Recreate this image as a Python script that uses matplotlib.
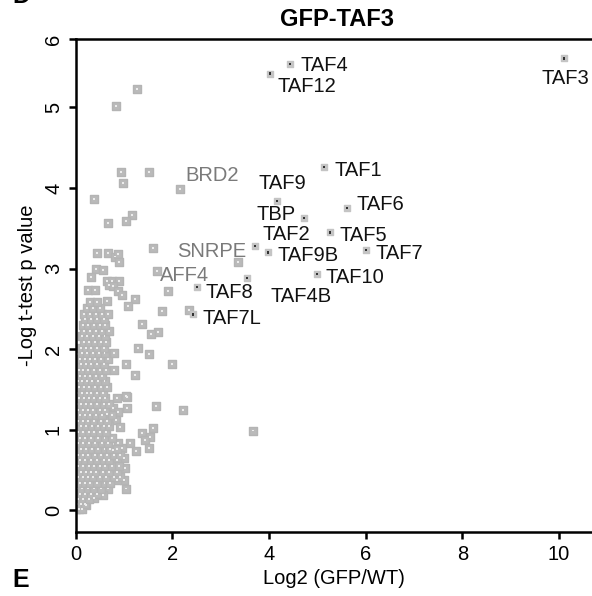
import matplotlib
matplotlib.use("Agg")
import matplotlib.pyplot as plt

plt.rcParams['font.family'] = ['Liberation Sans', 'DejaVu Sans']

# labelled TAF hits (x = log2 GFP/WT, y = -log p)
taf_names = ['TAF3', 'TAF4', 'TAF12', 'TAF1', 'TAF9', 'TAF6', 'TBP', 'TAF5',
             'TAF2', 'TAF9B', 'TAF7', 'TAF10', 'TAF4B', 'TAF8', 'TAF7L']
taf_x = [10.10, 4.44, 4.02, 5.14, 4.17, 5.62, 4.73, 5.26,
         3.71, 3.98, 6.01, 4.99, 3.55, 2.51, 2.43]
taf_y = [5.61, 5.54, 5.42, 4.26, 3.84, 3.75, 3.63, 3.45,
         3.28, 3.20, 3.23, 2.93, 2.88, 2.77, 2.43]

# labelled non-TAF proteins (drawn grey)
other_names = ['BRD2', 'SNRPE', 'AFF4']
other_x = [2.16, 3.36, 1.69]
other_y = [3.99, 3.08, 2.97]

# scattered background proteins
bg_pts = [
    (0.84, 5.02), (1.27, 5.23), (0.94, 4.20), (1.52, 4.20), (0.98, 4.06),
    (0.38, 3.86), (1.17, 3.66), (0.67, 3.57), (1.04, 3.59), (1.60, 3.26),
    (0.44, 3.19), (0.67, 3.19), (0.82, 3.15), (0.88, 3.18), (0.90, 3.08),
    (0.42, 3.00), (0.57, 2.98), (0.32, 2.89), (0.65, 2.85), (0.75, 2.85),
    (0.90, 2.85), (0.69, 2.80), (0.78, 2.78), (0.26, 2.73), (0.40, 2.74),
    (0.88, 2.72), (0.96, 2.67), (1.91, 2.72), (1.23, 2.62), (0.65, 2.60),
    (1.09, 2.54), (1.79, 2.47), (2.35, 2.48), (1.37, 2.31), (1.71, 2.21),
    (1.56, 2.19), (1.30, 2.02), (1.52, 1.94), (2.00, 1.81), (1.04, 1.82),
    (1.23, 1.68), (1.06, 1.40), (1.04, 1.42), (1.66, 1.29), (2.22, 1.25),
    (1.06, 1.27), (0.78, 1.27), (0.88, 1.22), (0.65, 1.20), (1.60, 1.02),
    (3.67, 0.99), (1.37, 0.96), (1.54, 0.91), (1.44, 0.87), (1.13, 0.83),
    (1.25, 0.73), (1.52, 0.77), (0.84, 1.12), (0.92, 1.03), (0.96, 0.77),
    (1.00, 0.65), (1.02, 0.53), (1.00, 0.37), (1.04, 0.27), (0.86, 0.37),
    (0.67, 0.27), (0.57, 0.19), (0.38, 0.15), (0.22, 0.06), (0.86, 0.62),
    (0.78, 0.75), (0.88, 0.83),
]
# dense cloud near the origin, row by row (y, list of x)
cloud_rows = [
    (0.02, [0.02, 0.08, 0.14]),
    (0.08, [0.03, 0.12, 0.20]),
    (0.14, [0.05, 0.15, 0.28]),
    (0.20, [0.02, 0.10, 0.20, 0.32, 0.45]),
    (0.27, [0.04, 0.14, 0.25, 0.38, 0.52]),
    (0.34, [0.02, 0.10, 0.20, 0.30, 0.44, 0.60, 0.72]),
    (0.41, [0.06, 0.16, 0.26, 0.36, 0.50, 0.64, 0.80, 0.93]),
    (0.48, [0.02, 0.12, 0.22, 0.32, 0.42, 0.56, 0.70, 0.85]),
    (0.55, [0.05, 0.15, 0.27, 0.38, 0.50, 0.62, 0.76, 0.90]),
    (0.62, [0.02, 0.10, 0.20, 0.32, 0.45, 0.58, 0.70]),
    (0.69, [0.06, 0.16, 0.26, 0.40, 0.52, 0.66, 0.80, 0.92]),
    (0.76, [0.02, 0.12, 0.22, 0.34, 0.46, 0.60, 0.72, 0.86]),
    (0.83, [0.05, 0.15, 0.28, 0.40, 0.54, 0.68]),
    (0.90, [0.02, 0.10, 0.20, 0.32, 0.46, 0.60, 0.75]),
    (0.97, [0.06, 0.16, 0.27, 0.38, 0.50, 0.64]),
    (1.04, [0.02, 0.12, 0.22, 0.34, 0.46, 0.58, 0.70]),
    (1.11, [0.05, 0.15, 0.26, 0.38, 0.52, 0.66]),
    (1.18, [0.02, 0.10, 0.20, 0.30, 0.42, 0.55, 0.75]),
    (1.25, [0.06, 0.16, 0.26, 0.36, 0.50, 0.62]),
    (1.32, [0.03, 0.12, 0.22, 0.32, 0.44, 0.58, 0.70]),
    (1.39, [0.07, 0.17, 0.27, 0.38, 0.50, 0.62, 0.86]),
    (1.46, [0.04, 0.13, 0.23, 0.33, 0.45, 0.56]),
    (1.53, [0.08, 0.18, 0.28, 0.40, 0.52, 0.66]),
    (1.60, [0.05, 0.14, 0.24, 0.35, 0.46, 0.60]),
    (1.67, [0.10, 0.20, 0.30, 0.42, 0.55]),
    (1.74, [0.07, 0.16, 0.26, 0.38, 0.50, 0.64, 0.80]),
    (1.81, [0.12, 0.22, 0.33, 0.45, 0.58]),
    (1.88, [0.10, 0.19, 0.30, 0.40, 0.52, 0.68]),
    (1.95, [0.14, 0.24, 0.36, 0.48, 0.60, 0.80]),
    (2.02, [0.12, 0.22, 0.33, 0.45, 0.58]),
    (2.09, [0.17, 0.28, 0.40, 0.52, 0.64]),
    (2.16, [0.14, 0.24, 0.36, 0.48, 0.60]),
    (2.23, [0.18, 0.30, 0.42, 0.55, 0.70]),
    (2.30, [0.16, 0.26, 0.38, 0.50, 0.62]),
    (2.37, [0.20, 0.32, 0.44, 0.58]),
    (2.44, [0.18, 0.30, 0.42, 0.55, 0.68]),
    (2.51, [0.24, 0.36, 0.50]),
    (2.58, [0.30, 0.45]),
]

x_ticks = [0, 2, 4, 6, 8, 10]
y_ticks = [0, 1, 2, 3, 4, 5, 5.85]
y_ticklabels = ['0', '1', '2', '3', '4', '5', '6']

# label offsets in pixels (dx, dy up) from marker
taf_offsets = {'TAF3': (2, -20, 'center'), 'TAF4': (10, -2, 'left'),
               'TAF12': (8, -13, 'left'), 'TAF1': (10, -3, 'left'),
               'TAF9': (-19, 17, 'left'), 'TAF6': (9, 4, 'left'),
               'TBP': (-48, 3, 'left'), 'TAF5': (10, -3, 'left'),
               'TAF2': (8, 12, 'left'), 'TAF9B': (10, -3, 'left'),
               'TAF7': (9, -3, 'left'), 'TAF10': (9, -3, 'left'),
               'TAF4B': (23, -18, 'left'), 'TAF8': (9, -5, 'left'),
               'TAF7L': (10, -4, 'left')}
other_offsets = {'BRD2': (5, 13), 'SNRPE': (-61, 11), 'AFF4': (3, -5)}

bg_x = [p[0] for p in bg_pts] + [x for y, xs in cloud_rows for x in xs]
bg_y = [p[1] for p in bg_pts] + [y for y, xs in cloud_rows for x in xs]

fig = plt.figure(figsize=(5.92, 5.96), dpi=100)
W, H = 592.0, 596.0
ax = fig.add_axes([75.5 / W, (H - 532) / H, 1 - 75.5 / W, (532 - 39) / H])

grey_x = bg_x + other_x
grey_y = bg_y + other_y
ax.scatter(grey_x, grey_y, marker='s', s=30, facecolor='#bababa',
           edgecolor='#b4b4b4', linewidths=1.0, zorder=2)
ax.scatter(grey_x, grey_y, marker='s', s=2, facecolor='#ececec',
           edgecolor='none', zorder=2.5)
ax.scatter(taf_x, taf_y, marker='s', s=22, facecolor='#c4c4c4',
           edgecolor='#c4c4c4', linewidths=1.0, zorder=4)
ax.scatter(taf_x, taf_y, marker='s', s=3, facecolor='#333333',
           edgecolor='none', zorder=4.5)

pt = 0.72  # px -> points at 100 dpi
for name, x, y in zip(taf_names, taf_x, taf_y):
    dx, dy, ha = taf_offsets[name]
    ax.annotate(name, (x, y), xytext=(dx * pt, dy * pt), textcoords='offset points',
                ha=ha, va='center', fontsize=14.5, color='#111111', zorder=5,
                annotation_clip=False)
for name, x, y in zip(other_names, other_x, other_y):
    dx, dy = other_offsets[name]
    ax.annotate(name, (x, y), xytext=(dx * pt, dy * pt), textcoords='offset points',
                ha='left', va='center', fontsize=14.5, color='#7a7a7a', zorder=5)

ax.set_xlim(0, (W - 75.5) / 48.35)
ax.set_ylim(-0.27, 5.85)
ax.set_xticks(x_ticks)
ax.set_xticklabels([str(t) for t in x_ticks], fontsize=14.5)
ax.set_yticks(y_ticks)
ax.set_yticklabels(y_ticklabels, fontsize=14.5, rotation=90, va='center')

ax.spines['right'].set_visible(False)
for s in ['left', 'bottom', 'top']:
    ax.spines[s].set_linewidth(1.8)
ax.tick_params(direction='out', length=5, width=1.8, pad=4)

ax.set_xlabel('Log2 (GFP/WT)', fontsize=14.5, labelpad=4)
ax.set_ylabel('-Log t-test p value', fontsize=14.5, labelpad=5)

fig.text(337 / W, 1 - 20 / H, 'GFP-TAF3', ha='center', va='center',
         fontsize=17, fontweight='bold')
fig.text(12 / W, 1 - 8 / H, 'D', ha='left', va='bottom', fontsize=18, fontweight='bold')
fig.text(12 / W, 1 - 580 / H, 'E', ha='left', va='center', fontsize=18, fontweight='bold')

fig.savefig('out.png', dpi=100)
